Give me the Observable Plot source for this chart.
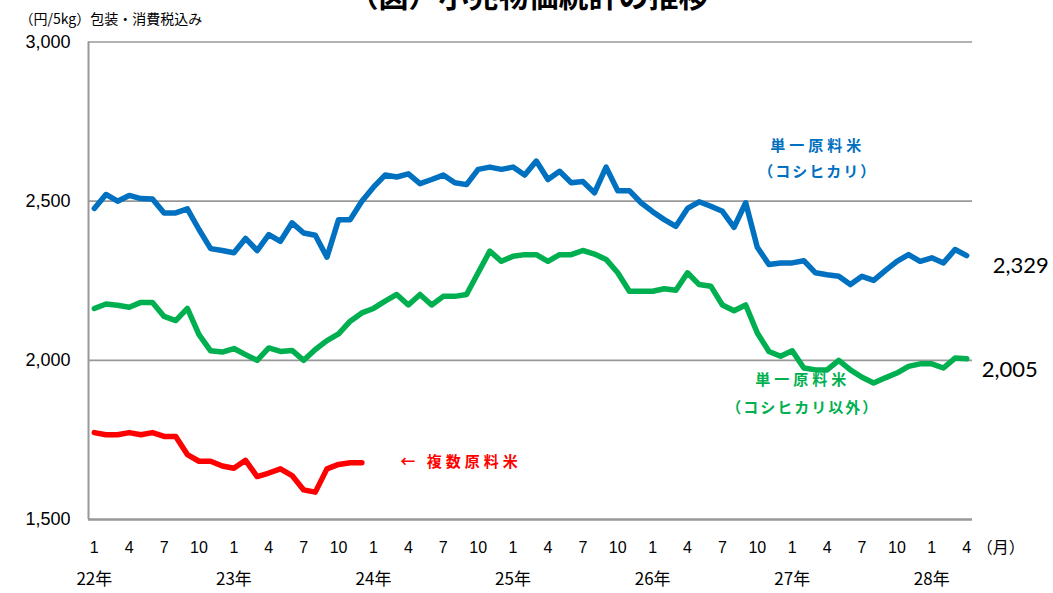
<!DOCTYPE html>
<html>
<head>
<meta charset="utf-8">
<script src="https://cdn.jsdelivr.net/npm/d3@7"></script>
<script src="https://cdn.jsdelivr.net/npm/@observablehq/plot@0.6"></script>
<style>
  html, body { margin: 0; padding: 0; background: #fff; overflow: hidden; }
  #chart svg { display: block; font-family: "Liberation Sans", "Noto Sans CJK JP", sans-serif; }
  #chart g[fill="#0070C0"] text, #chart g[fill="#00B050"] text, #chart g[fill="#FF0000"] text { letter-spacing: 4px; }
</style>
</head>
<body>
<div id="chart"></div>
<script>
// Monthly retail prices (yen / 5kg), Jan 22年 (H22) .. Apr 28年 (H28)
const monthLabels = ["1","2","3","4","5","6","7","8","9","10","11","12"];
const yearLabels = ["22年","23年","24年","25年","26年","27年","28年"];

const koshihikari = [
  2477,2521,2500,2518,2508,2507,2463,2463,2476,2411,2351,2345,
  2338,2383,2345,2395,2374,2432,2400,2393,2324,2442,2442,2500,
  2544,2582,2576,2586,2555,2568,2582,2558,2552,2600,2607,2600,
  2607,2582,2626,2568,2594,2558,2562,2526,2607,2533,2533,2495,
  2467,2442,2421,2477,2498,2484,2468,2418,2495,2355,2301,2306,
  2306,2313,2275,2269,2264,2238,2264,2251,2282,2311,2332,2311,
  2322,2306,2348,2329
];
const otherSingle = [
  2163,2177,2173,2167,2182,2182,2138,2125,2163,2081,2030,2026,
  2037,2018,2000,2039,2028,2031,2000,2034,2062,2083,2123,2149,
  2163,2186,2207,2174,2207,2174,2201,2201,2207,2275,2343,2311,
  2327,2332,2332,2311,2332,2332,2345,2334,2317,2275,2217,2217,
  2217,2225,2220,2275,2238,2233,2174,2156,2174,2086,2028,2013,
  2030,1976,1970,1970,2000,1970,1947,1929,1945,1960,1981,1989,
  1989,1976,2007,2005
];
const blended = [
  1773,1766,1766,1773,1766,1773,1761,1761,1704,1683,1683,1668,
  1661,1686,1635,1646,1659,1638,1593,1586,1659,1673,1678,1678
];

const yTicks = [1500, 2000, 2500, 3000];
const gridValues = [2000, 2500, 3000];

const toRows = (arr, name) => arr.map((v, i) => ({i, v, name}));
const rowsBlue = toRows(koshihikari, "単一原料米（コシヒカリ）");
const rowsGreen = toRows(otherSingle, "単一原料米（コシヒカリ以外）");
const rowsRed = toRows(blended, "複数原料米");

const n = koshihikari.length;
const monthTicks = d3.range(0, n, 3);
const yearTicks = d3.range(0, n, 12);

const BLUE = "#0070C0", GREEN = "#00B050", RED = "#FF0000", GRID = "#989898";
const CJK = "'Noto Sans CJK JP', sans-serif";

const chart = Plot.plot({
  width: 1053,
  height: 593,
  marginLeft: 88,
  marginRight: 81,
  marginTop: 41.5,
  marginBottom: 74,
  x: {type: "linear", domain: [-0.5, n - 0.5], axis: null},
  y: {domain: [1500, 3000], axis: null},
  marks: [
    // grid lines
    Plot.ruleY(gridValues, {stroke: GRID, strokeWidth: 1.6}),
    Plot.ruleY([1500], {stroke: GRID, strokeWidth: 2.6}),
    Plot.ruleX([-0.5], {y1: 1500, y2: 3000, stroke: GRID, strokeWidth: 2}),
    // y tick labels
    Plot.text(yTicks, {
      y: d => d, frameAnchor: "left", dx: -18, textAnchor: "end",
      text: d => d3.format(",")(d), fontSize: 18, fill: "#000"
    }),
    // x month labels
    Plot.text(monthTicks, {
      x: d => d, frameAnchor: "bottom", dy: 33,
      text: d => monthLabels[d % 12], fontSize: 16, fill: "#000"
    }),
    Plot.text(["（月）"], {
      x: n - 1, frameAnchor: "bottom", dy: 33, dx: 10, textAnchor: "start",
      text: d => d, fontSize: 16, fill: "#000", fontFamily: CJK
    }),
    // x year labels
    Plot.text(yearTicks, {
      x: d => d, frameAnchor: "bottom", dy: 65,
      text: d => yearLabels[d / 12], fontSize: 17, fill: "#000", fontFamily: CJK
    }),
    // lines
    Plot.line(rowsRed, {x: "i", y: "v", stroke: RED, strokeWidth: 5.5, strokeLinejoin: "round", strokeLinecap: "round"}),
    Plot.line(rowsGreen, {x: "i", y: "v", stroke: GREEN, strokeWidth: 5.5, strokeLinejoin: "round", strokeLinecap: "round"}),
    Plot.line(rowsBlue, {x: "i", y: "v", stroke: BLUE, strokeWidth: 5.5, strokeLinejoin: "round", strokeLinecap: "round"}),
    // end value labels
    Plot.text([rowsBlue[n - 1]], {
      x: "i", y: "v", dx: 26, dy: 10, textAnchor: "start",
      text: d => d3.format(",")(d.v), fontSize: 22, fill: "#000",
      fontFamily: "Lato, 'Open Sans', sans-serif"
    }),
    Plot.text([rowsGreen[n - 1]], {
      x: "i", y: "v", dx: 15, dy: 11, textAnchor: "start",
      text: d => d3.format(",")(d.v), fontSize: 22, fill: "#000",
      fontFamily: "Lato, 'Open Sans', sans-serif"
    }),
    // series annotations
    Plot.text(["単一原料米", "（コシヒカリ）"], {
      x: 62.2, y: (d, k) => [2672, 2590][k],
      text: d => d, fill: BLUE, fontSize: 15, fontWeight: "bold",
      fontFamily: CJK
    }),
    Plot.text(["単一原料米", "（コシヒカリ以外）"], {
      x: 60.9, y: (d, k) => [1937, 1849][k],
      text: d => d, fill: GREEN, fontSize: 15, fontWeight: "bold",
      fontFamily: CJK
    }),
    Plot.text(["← 複数原料米"], {
      x: 26.3, y: 1680, textAnchor: "start",
      text: d => d, fill: RED, fontSize: 15, fontWeight: "bold",
      fontFamily: CJK
    }),
    // unit label
    Plot.text(["（円/5kg）包装・消費税込み"], {
      frameAnchor: "top-left", dx: -69, dy: -28, textAnchor: "start",
      text: d => d, fontSize: 14, fill: "#000", fontFamily: CJK
    }),
    // title (cut off at the top edge, as in the source)
    Plot.text(["（図）小売物価統計の推移"], {
      frameAnchor: "top", dx: -2, dy: -56,
      text: d => d, fontSize: 30, fontWeight: "bold", fill: "#000", fontFamily: CJK
    })
  ]
});
d3.select(chart).selectAll("text")
  .filter(function() { return this.textContent.startsWith("（コシ"); })
  .style("letter-spacing", "2px");
document.getElementById("chart").appendChild(chart);
</script>
</body>
</html>
